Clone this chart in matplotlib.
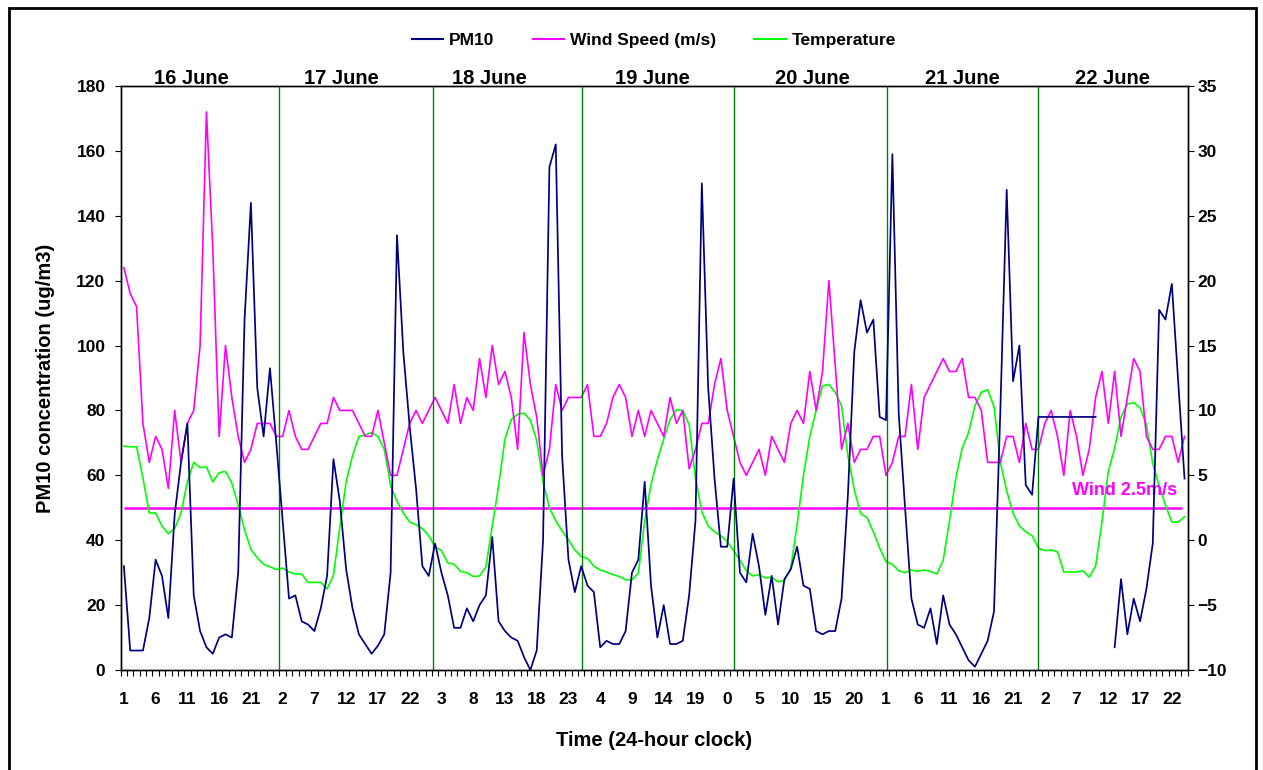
import numpy as np
import matplotlib
matplotlib.use("Agg")
import matplotlib.pyplot as plt
from matplotlib.lines import Line2D
from matplotlib.patches import Rectangle
import matplotlib.transforms as mtransforms

plt.rcParams['font.family'] = ['Liberation Sans', 'DejaVu Sans']
plt.rcParams['font.weight'] = 'bold'

nan = np.nan
# ---------------- data ----------------
pm10 = [32, 6, 6, 6, 16, 34, 29, 16, 48, 64, 76, 23, 12, 7, 5, 10, 11, 10, 30, 108,
        144, 87, 72, 93, 70, 46, 22, 23, 15, 14, 12, 19, 29, 65, 52, 31, 19, 11, 8, 5,
        7.5, 11, 30, 134, 98, 75, 56, 32, 29, 39, 30, 23, 13, 13, 19, 15, 20, 23, 41, 15,
        12, 10, 9, 4, 0, 6, 40, 155, 162, 66, 34, 24, 32, 26, 24, 7, 9, 8, 8, 12,
        30, 34, 58, 26, 10, 20, 8, 8, 9, 23, 46, 150, 87, 59, 38, 38, 59, 30, 27, 42,
        32, 17, 29, 14, 28, 31, 38, 26, 25, 12, 11, 12, 12, 22, 54, 98, 114, 104, 108, 78,
        77, 159, 79, 50, 22, 14, 13, 19, 8, 23, 14, 11, 7, 3, 1, 5, 9, 18, 80, 148,
        89, 100, 57, 54, 78, 78, 78, 78, 78, 78, 78, 78, 78, 78, nan, nan, 7, 28, 11, 22,
        15, 25, 39, 111, 108, 119, 89, 59]

wind = [21, 19, 18, 9, 6, 8, 7, 4, 10, 6, 9, 10, 15, 33, 22.5, 8, 15, 11, 8, 6,
        7, 9, 9, 9, 8, 8, 10, 8, 7, 7, 8, 9, 9, 11, 10, 10, 10, 9, 8, 8,
        10, 7.5, 5, 5, 7, 9, 10, 9, 10, 11, 10, 9, 12, 9, 11, 10, 14, 11, 15, 12,
        13, 11, 7, 16, 12, 9.5, 5, 7, 12, 10, 11, 11, 11, 12, 8, 8, 9, 11, 12, 11,
        8, 10, 8, 10, 9, 8, 11, 9, 10, 5.5, 7, 9, 9, 12, 14, 10, 8, 6, 5, 6,
        7, 5, 8, 7, 6, 9, 10, 9, 13, 10, 13, 20, 13.5, 7, 9, 6, 7, 7, 8, 8,
        5, 6, 8, 8, 12, 7, 11, 12, 13, 14, 13, 13, 14, 11, 11, 10, 6, 6, 6, 8,
        8, 6, 9, 7, 7, 9, 10, 8, 5, 10, 8, 5, 7, 11, 13, 9, 13, 8, 11, 14,
        13, 8, 7, 7, 8, 8, 6, 8]

temperature = [7.25, 7.2, 7.2, 4.8, 2.1, 2.1, 1.1, 0.5, 0.9, 2.1, 4.5, 6.0, 5.6, 5.65, 4.5, 5.2, 5.3, 4.4, 2.7, 0.8,
               -0.7, -1.35, -1.85, -2.05, -2.25, -2.15, -2.45, -2.6, -2.6, -3.25, -3.25, -3.25, -3.75, -2.7, 1.0, 4.5, 6.5, 8.0, 8.1, 8.3,
               8.0, 7.0, 4.2, 3.0, 2.1, 1.4, 1.2, 0.9, 0.35, -0.5, -0.8, -1.75, -1.85, -2.4, -2.5, -2.8, -2.75, -2.05, 1.1, 4.2,
               7.8, 9.3, 9.7, 9.8, 9.25, 7.7, 4.5, 2.5, 1.5, 0.7, 0.05, -0.75, -1.25, -1.4, -2.0, -2.3, -2.45, -2.65, -2.8, -3.05,
               -3.05, -2.55, 1.5, 4.3, 6.2, 7.8, 9.3, 10.05, 10.0, 8.9, 4.8, 2.2, 1.1, 0.65, 0.35, -0.1, -0.8, -1.55, -2.35, -2.75,
               -2.65, -2.9, -2.85, -3.2, -3.1, -2.15, 1.2, 5.0, 8.0, 10.0, 11.9, 12.0, 11.4, 10.35, 6.5, 3.9, 2.05, 1.75, 0.65, -0.6,
               -1.65, -1.85, -2.35, -2.5, -2.3, -2.4, -2.3, -2.4, -2.6, -1.55, 1.5, 4.8, 7.1, 8.3, 10.35, 11.4, 11.6, 10.3, 6.0, 3.8,
               2.1, 1.1, 0.65, 0.35, -0.6, -0.8, -0.75, -0.9, -2.45, -2.45, -2.45, -2.35, -2.85, -2.0, 1.4, 5.3, 7.1, 9.5, 10.5, 10.6,
               10.2, 8.9, 5.9, 4.2, 2.7, 1.4, 1.4, 1.8]

tick_labels = ["1", "6", "11", "16", "21", "2", "7", "12", "17", "22", "3", "8", "13", "18", "23",
               "4", "9", "14", "19", "0", "5", "10", "15", "20", "1", "6", "11", "16", "21",
               "2", "7", "12", "17", "22"]
day_names = ["16 June", "17 June", "18 June", "19 June", "20 June", "21 June", "22 June"]
day_centres = [10.6, 34.3, 57.6, 83.2, 108.4, 132.1, 155.7]
day_boundaries = [24.5, 48.6, 72.1, 96.06, 120.2, 144.0]
wind_threshold = 2.5
threshold_end = 166.6

# ---------------- figure ----------------
W, H = 1263, 770
fig = plt.figure(figsize=(W / 100, H / 100), dpi=100)
fig.patch.set_facecolor('white')
ax = fig.add_axes([120.7 / W, 1 - 670 / H, (1187.7 - 120.7) / W, (670 - 86) / H])
ax2 = ax.twinx()

n = len(pm10)
x = np.arange(n)
FS = 12.5
FS_TITLE = 14.5

ax.set_xlim(-0.5, n - 0.5)
ax.set_ylim(0, 180)
ax2.set_ylim(-10, 35)

for b in day_boundaries:
    ax.axvline(b, color='#008000', lw=1.0, zorder=1)

ax2.hlines(wind_threshold, 0, threshold_end, color='#FF00FF', lw=1.8, zorder=2)
ax2.plot(x, temperature, color='#00FF00', lw=1.2, zorder=3)
ax2.plot(x, wind, color='#FF00FF', lw=1.2, zorder=4)
ax.plot(x, pm10, color='#000080', lw=1.25, zorder=5)
ax.set_zorder(ax2.get_zorder() + 1)
ax.patch.set_visible(False)

# ticks
ax.set_yticks(np.arange(0, 181, 20))
ax2.set_yticks(np.arange(-10, 36, 5))
ax.set_xticks(np.arange(0, n, 5))
ax.set_xticklabels(tick_labels)
ax.set_xticks(np.arange(-0.5, n, 1), minor=True)
ax.tick_params(axis='x', which='major', length=0, pad=16, labelsize=FS)
ax.tick_params(axis='x', which='minor', length=4, width=0.8, direction='out')
ax.tick_params(axis='y', length=4, width=0.8, direction='out', pad=7, labelsize=FS)
ax2.tick_params(axis='y', length=4, width=0.8, direction='out', pad=3, labelsize=FS)
for lab in ax.get_xticklabels() + ax.get_yticklabels() + ax2.get_yticklabels():
    lab.set_fontweight('bold')

for sp in list(ax.spines.values()) + list(ax2.spines.values()):
    sp.set_linewidth(1.0)
    sp.set_color('black')

ax.set_ylabel("PM10 concentration (ug/m3)", fontsize=FS_TITLE, fontweight='bold', labelpad=15)
ax.set_xlabel("Time (24-hour clock)", fontsize=FS_TITLE, fontweight='bold', labelpad=17)

# day labels
trans = mtransforms.blended_transform_factory(ax.transData, ax.transAxes)
for name, c in zip(day_names, day_centres):
    ax.text(c, 1.012, name, transform=trans, ha='center', va='center',
            fontsize=FS_TITLE, fontweight='bold', color='black')

# wind threshold label
ax2.text(149.3, 3.8, "Wind 2.5m/s", ha='left', va='center', fontsize=13,
         fontweight='bold', color='#FF00FF')

# legend
handles = [Line2D([], [], color='#000080', lw=1.5),
           Line2D([], [], color='#FF00FF', lw=1.5),
           Line2D([], [], color='#00FF00', lw=1.5)]
fig.legend(handles, ["PM10", "Wind Speed (m/s)", "Temperature"], loc='center',
           bbox_to_anchor=(654 / W, 1 - 40 / H), ncol=3, frameon=False,
           prop={'weight': 'bold', 'size': FS}, handlelength=1.8,
           handletextpad=0.35, columnspacing=2.2)

# chart border
fig.patches.append(Rectangle((9 / W, -0.02), (1256 - 9) / W, 1.02 - 8.5 / H,
                             transform=fig.transFigure, fill=False, lw=2.0,
                             ec='black'))

fig.savefig("out.png", dpi=100)
